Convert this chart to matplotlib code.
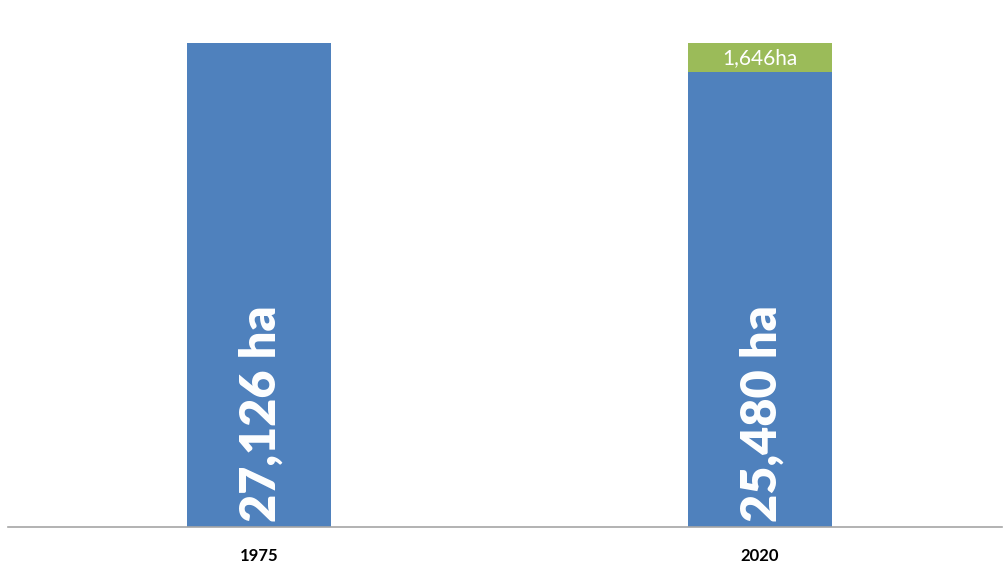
import matplotlib
matplotlib.use("Agg")
import matplotlib.pyplot as plt

years = ["1975", "2020"]
remaining_ha = [27126, 25480]
lost_ha = [0, 1646]
remaining_labels = ["27,126 ha", "25,480 ha"]
lost_labels = ["", "1,646ha"]

plt.rcParams["font.family"] = ["Lato", "DejaVu Sans"]

fig = plt.figure(figsize=(10.06, 5.67), dpi=100)
ax = fig.add_axes([8 / 1006, 40 / 567, 994 / 1006, 484 / 567])

blue = "#4F81BD"
green = "#9BBB59"
x = list(range(len(years)))
width = 0.287

ax.bar(x, remaining_ha, width=width, color=blue, zorder=2)
ax.bar(x, lost_ha, width=width, bottom=remaining_ha, color=green, zorder=2)

for xi, val, lab in zip(x, remaining_ha, remaining_labels):
    ax.text(xi + 0.004, 280, lab, rotation=90, ha="center", va="bottom",
            color="white", fontsize=35, fontweight="heavy", zorder=3)

for xi, base, val, lab in zip(x, remaining_ha, lost_ha, lost_labels):
    if val > 0:
        ax.text(xi, base + val / 2, lab, ha="center", va="center",
                color="white", fontsize=15, zorder=3)

ax.set_xlim(-0.501, 1.483)
ax.set_ylim(0, 27126)
ax.set_xticks(x)
ax.set_xticklabels(years, fontsize=12, fontweight="bold", color="black")
ax.tick_params(axis="x", length=0, pad=15)
ax.set_yticks([])
for side in ["left", "right", "top"]:
    ax.spines[side].set_visible(False)
ax.spines["bottom"].set_color("#A6A6A6")
ax.spines["bottom"].set_linewidth(1.2)

fig.savefig("out.png", dpi=100)
